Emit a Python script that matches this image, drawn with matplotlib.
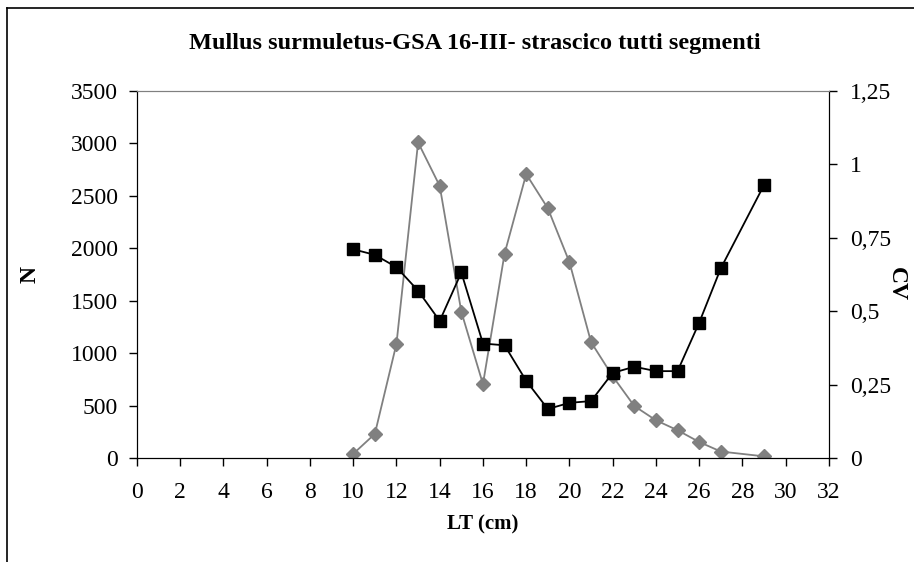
import matplotlib
matplotlib.use("Agg")
import matplotlib.pyplot as plt
from matplotlib.lines import Line2D

# length classes (cm), 28 has no data
lt = [10, 11, 12, 13, 14, 15, 16, 17, 18, 19, 20, 21, 22, 23, 24, 25, 26, 27, 29]
n_values = [40, 230, 1090, 3010, 2595, 1395, 705, 1950, 2708, 2382, 1868,
            1105, 780, 496, 360, 265, 153, 62, 16]
cv_values = [0.711, 0.692, 0.650, 0.570, 0.467, 0.632, 0.390, 0.384, 0.263,
             0.167, 0.188, 0.194, 0.290, 0.311, 0.296, 0.296, 0.461, 0.646, 0.930]

x_ticks = list(range(0, 33, 2))
n_ticks = list(range(0, 3501, 500))
cv_ticks = [0, 0.25, 0.5, 0.75, 1, 1.25]
cv_labels = ["0", "0,25", "0,5", "0,75", "1", "1,25"]

plt.rcParams["font.family"] = ["Liberation Serif", "DejaVu Serif"]

fig = plt.figure(figsize=(9.14, 5.62), dpi=100)
ax = fig.add_axes([0.1499, 0.185, 0.757, 0.653])

ax.plot(lt, n_values, "-", color="#808080", lw=1.3,
        marker="D", ms=7.5, mfc="#808080", mec="#808080", zorder=2)
ax.set_xlim(0, 32)
ax.set_ylim(0, 3500)
ax.set_xticks(x_ticks)
ax.set_yticks(n_ticks)
ax.tick_params(axis="both", direction="out", length=6, width=1, labelsize=17)
ax.tick_params(axis="x", pad=11)
ax.tick_params(axis="y", pad=8)
ax.set_xlabel("LT (cm)", fontsize=15, fontweight="bold")
ax.xaxis.set_label_coords(0.5, -0.155)
ax.set_ylabel("N", fontsize=17, fontweight="bold")
ax.yaxis.set_label_coords(-0.14, 0.5)

ax2 = ax.twinx()
ax2.plot(lt, cv_values, "-", color="black", lw=1.3,
         marker="s", ms=9, mfc="black", mec="black", zorder=3)
ax2.set_ylim(0, 1.25)
ax2.set_yticks(cv_ticks)
ax2.set_yticklabels(cv_labels)
ax2.tick_params(axis="y", direction="out", length=6, width=1, labelsize=17, pad=9)
ax2.set_ylabel("CV", fontsize=17, fontweight="bold", rotation=-90, va="center")
ax2.yaxis.set_label_coords(1.097, 0.474)

for a in (ax, ax2):
    a.spines["top"].set_color("#808080")
    for s in ("left", "right", "bottom"):
        a.spines[s].set_color("black")

fig.text(0.52, 0.923, "Mullus surmuletus-GSA 16-III- strascico tutti segmenti",
         ha="center", va="center", fontsize=17.5, fontweight="bold")

# chart area border (left and top edges visible)
fig.add_artist(Line2D([0.008, 0.008], [0.0, 0.986], transform=fig.transFigure,
                      color="black", lw=1.2))
fig.add_artist(Line2D([0.008, 1.0], [0.986, 0.986], transform=fig.transFigure,
                      color="black", lw=1.2))

fig.savefig("out.png", dpi=100)
